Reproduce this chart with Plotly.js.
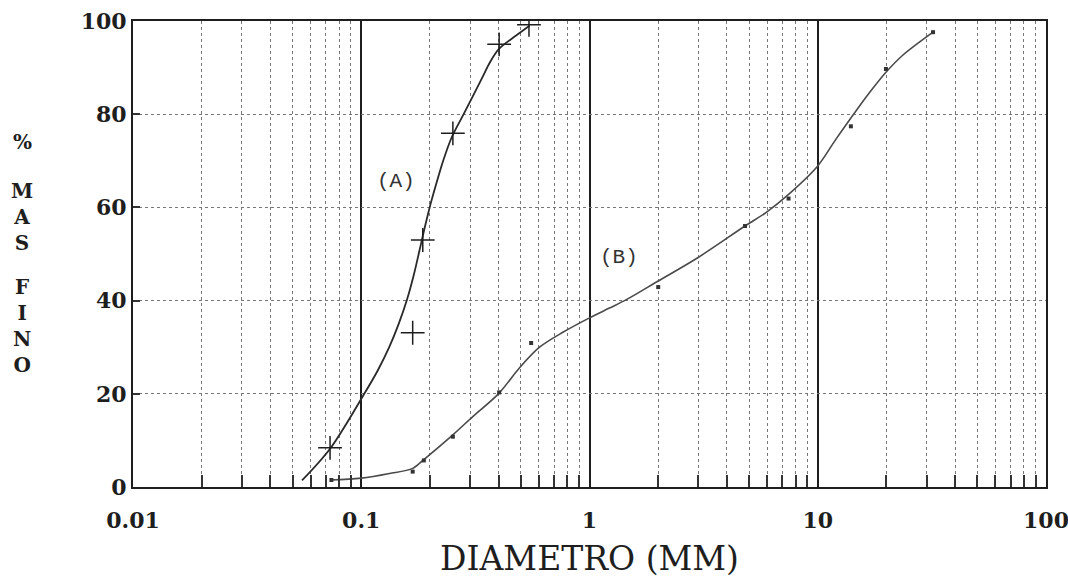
<!DOCTYPE html>
<html>
<head>
<meta charset="utf-8">
<script src="https://cdn.plot.ly/plotly-3.0.1.min.js"></script>
<style>html,body{margin:0;padding:0;background:#fff;}#chart{width:1068px;height:581px;}</style>
</head>
<body>
<div id="chart"></div>
<script>
// Measured points, sample A (plus markers)
const aDiam = [0.073, 0.168, 0.186, 0.252, 0.402, 0.543];
const aPass = [8.4, 33.1, 53.0, 75.9, 95.0, 99.2];
// Measured points, sample B (small squares)
const bDiam = [0.074, 0.168, 0.188, 0.252, 0.402, 0.555, 2.0, 4.8, 7.45, 13.97, 19.9, 32];
const bPass = [1.5, 3.3, 5.7, 10.8, 20.3, 30.9, 42.9, 56.0, 61.9, 77.4, 89.7, 97.6];
// Fitted curve A
const aCurveD = [0.055, 0.073, 0.1031, 0.1181, 0.1326, 0.1459, 0.1582, 0.1689, 0.1785, 0.1883, 0.1994, 0.2130, 0.2285, 0.2489, 0.2809, 0.3402, 0.3650, 0.4010, 0.4650, 0.5462];
const aCurveP = [1.4, 8.2, 20, 25, 30, 35, 40, 45, 50, 55, 60, 65, 70, 75, 80, 88, 91, 94, 96.5, 99];
// Fitted curve B
const bCurveD = [0.073, 0.1, 0.133, 0.168, 0.188, 0.252, 0.308, 0.401, 0.494, 0.604, 0.764, 1.0, 1.223, 1.45, 2.0, 2.98, 4.8, 5.93, 7.45, 10, 12.0, 14.7, 17.4, 19.9, 23.5, 32];
const bCurveP = [1.5, 1.9, 2.9, 4.0, 5.9, 11.2, 15.1, 20.1, 25.6, 30.0, 33.2, 36.3, 38.4, 40.2, 44.2, 49.2, 56, 58.9, 62.8, 68.9, 74.6, 80.7, 85.5, 89.0, 92.6, 97.6];
// Axis ticks
const xTickVals = [0.01, 0.1, 1, 10, 100];
const xTickText = ['0.01', '0.1', '1', '10', '100'];
const yTickVals = [0, 20, 40, 60, 80, 100];
const yTitleGroups = ['%', 'M<br>A<br>S', 'F<br>I<br>N<br>O'];
const labelA = '(A)';
const labelB = '(B)';
const xTitle = 'DIAMETRO (MM)';

const minorVals = [];
[0.01, 0.1, 1, 10].forEach(d => { for (let k = 2; k <= 9; k++) minorVals.push(+(d * k).toPrecision(3)); });

const ink = '#1e1e1e';
const tickFont = {family: 'DejaVu Serif', size: 22, weight: 'bold', color: ink};
const yTitleFont = {family: 'DejaVu Serif', size: 20, weight: 'bold', color: ink};

const traces = [
  {x: aCurveD, y: aCurveP, mode: 'lines', line: {color: '#2a2a2a', width: 1.8, shape: 'spline', smoothing: 0.9}, hoverinfo: 'skip'},
  {x: bCurveD, y: bCurveP, mode: 'lines', line: {color: '#4a4a4a', width: 1.6, shape: 'spline', smoothing: 0.9}, hoverinfo: 'skip'},
  {x: aDiam, y: aPass, mode: 'markers', marker: {symbol: 'cross-thin', size: 17, line: {color: ink, width: 1.5}}},
  {x: bDiam, y: bPass, mode: 'markers', marker: {symbol: 'square', size: 4, color: '#333'}}
];

// pixel helpers for the stacked y-axis title (plot area: top 21, height 466)
const pyTop = 21, pyH = 466, pxL = 133, pxW = 913;
const yTitleCenters = [142, 217, 326];

const layout = {
  width: 1068, height: 581,
  margin: {l: 133, r: 22, t: 21, b: 94},
  paper_bgcolor: '#fff', plot_bgcolor: '#fff',
  showlegend: false,
  xaxis: {
    type: 'log', range: [-2, 2],
    tickmode: 'array', tickvals: xTickVals, ticktext: xTickText,
    tickfont: tickFont, ticks: '', ticklabelstandoff: 13, ticklabeloverflow: 'allow',
    showgrid: true, gridcolor: ink, gridwidth: 2,
    showline: true, mirror: true, linecolor: ink, linewidth: 2,
    zeroline: false,
    minor: {tickmode: 'array', tickvals: minorVals, ticks: 'inside', ticklen: 12, tickwidth: 2, tickcolor: '#333',
            showgrid: true, gridcolor: '#777', gridwidth: 1, griddash: 'dot'},
    title: {text: xTitle, font: {family: 'DejaVu Serif', size: 33, color: ink}, standoff: 14}
  },
  yaxis: {
    range: [0, 100], tickmode: 'array', tickvals: yTickVals,
    tickfont: tickFont, ticks: 'inside', ticklen: 7, tickwidth: 2, tickcolor: '#333',
    showgrid: true, gridcolor: '#777', gridwidth: 1, griddash: 'dot',
    showline: true, mirror: true, linecolor: ink, linewidth: 2, zeroline: false
  },
  annotations: [
    {xref: 'x', yref: 'y', x: Math.log10(0.1416), y: 65.6, text: labelA, showarrow: false,
     font: {family: 'Liberation Mono', size: 21, color: '#333'}},
    {xref: 'x', yref: 'y', x: Math.log10(1.35), y: 49.2, text: labelB, showarrow: false,
     font: {family: 'Liberation Mono', size: 21, color: '#333'}}
  ].concat(yTitleGroups.map((t, i) => ({
    xref: 'paper', yref: 'paper', x: (22 - pxL) / pxW, y: (pyTop + pyH - yTitleCenters[i]) / pyH,
    xanchor: 'center', yanchor: 'middle', text: t, showarrow: false, align: 'center', font: yTitleFont
  })))
};

Plotly.newPlot('chart', traces, layout, {displayModeBar: false, staticPlot: true});
</script>
</body>
</html>
